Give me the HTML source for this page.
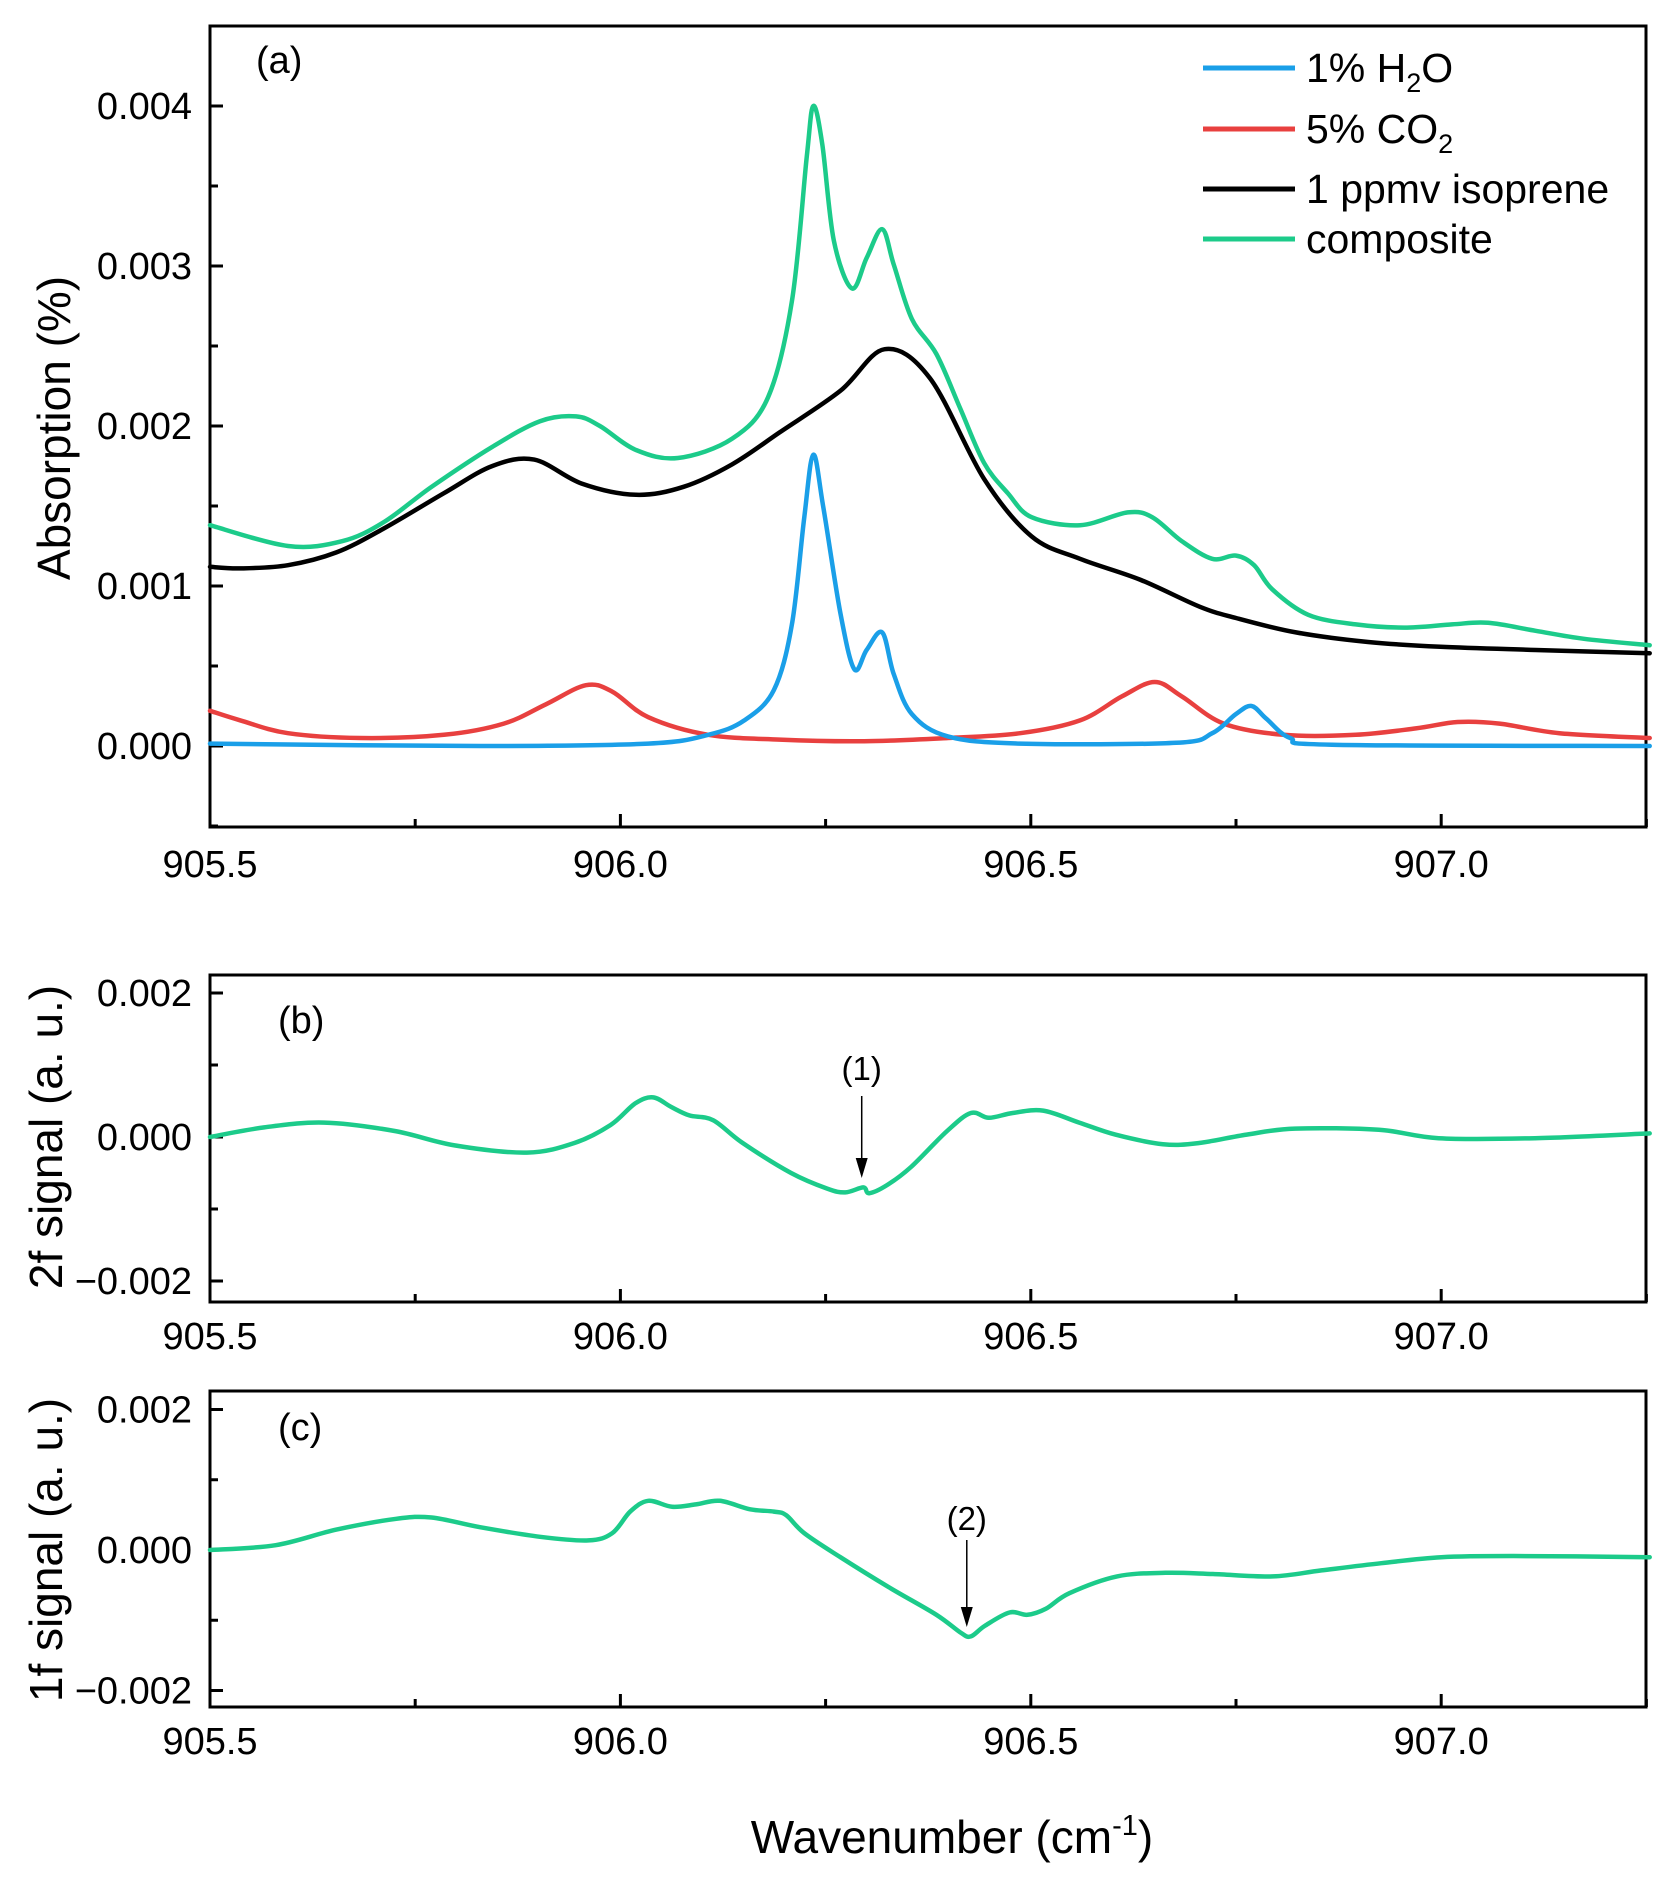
<!DOCTYPE html>
<html><head><meta charset="utf-8"><style>
html,body{margin:0;padding:0;background:#fff;}
svg text{font-family:"Liberation Sans",Arial,sans-serif;fill:#000;}
</style></head><body>
<svg id="chart" width="1670" height="1878" viewBox="0 0 1670 1878" xmlns="http://www.w3.org/2000/svg" style="position:absolute;left:0;top:0"></svg>
<script>
// ---- data (panel a) ----
const compX=[905.500,905.595,905.661,905.712,905.770,905.844,905.902,905.946,905.975,906.019,906.070,906.136,906.180,906.209,906.227,906.235,906.246,906.260,906.282,906.300,906.319,906.333,906.355,906.385,906.414,906.443,906.472,906.501,906.560,906.618,906.648,906.684,906.721,906.750,906.772,906.794,906.838,906.896,906.955,907.013,907.057,907.115,907.174,907.254];
const compY=[0.00138,0.00125,0.00128,0.00140,0.00162,0.00187,0.00203,0.00206,0.00200,0.00185,0.00180,0.00192,0.00218,0.00278,0.00368,0.00400,0.00376,0.00316,0.00286,0.00305,0.00323,0.00301,0.00267,0.00245,0.00211,0.00177,0.00158,0.00143,0.00138,0.00146,0.00143,0.00128,0.00117,0.00119,0.00113,0.00098,0.00082,0.00076,0.00074,0.00076,0.00077,0.00072,0.00067,0.00063];
const isoX=[905.500,905.537,905.595,905.654,905.712,905.785,905.844,905.895,905.953,906.019,906.077,906.136,906.194,906.268,906.322,906.377,906.443,906.501,906.560,906.633,906.706,906.750,906.823,906.911,906.999,907.115,907.254];
const isoY=[0.00112,0.00111,0.00113,0.00121,0.00136,0.00158,0.00175,0.00179,0.00164,0.00157,0.00162,0.00176,0.00196,0.00222,0.00248,0.00230,0.00167,0.00131,0.00117,0.00104,0.00087,0.00080,0.00071,0.00065,0.00062,0.00060,0.00058];
const h2oX=[905.500,905.829,906.034,906.107,906.151,906.187,906.209,906.224,906.235,906.247,906.268,906.285,906.300,906.319,906.333,906.355,906.399,906.487,906.677,906.721,906.750,906.769,906.787,906.816,906.867,907.254];
const h2oY=[0.000015,0,0.000015,0.00007,0.00016,0.00035,0.00076,0.00143,0.00182,0.00150,0.00083,0.00048,0.00060,0.00071,0.00045,0.00020,0.00006,0.000015,0.00002,0.00008,0.00020,0.00025,0.00017,0.00005,0.000008,0];
const co2X=[905.500,905.537,905.595,905.683,905.785,905.858,905.909,905.958,905.990,906.034,906.107,906.194,906.297,906.399,906.487,906.560,906.611,906.651,906.684,906.735,906.808,906.896,906.969,907.020,907.071,907.144,907.254];
const co2Y=[0.00022,0.00016,0.00008,0.00005,0.00007,0.00014,0.00026,0.00038,0.00034,0.00018,0.00007,0.00004,0.00003,0.00005,0.00008,0.00016,0.00031,0.00040,0.00031,0.00014,0.00007,0.00007,0.00011,0.00015,0.00014,0.00008,0.00005];
// ---- data (panel b, 2f) ----
const twoFX=[905.500,905.566,905.639,905.725,905.798,905.886,905.944,905.988,906.018,906.040,906.062,906.084,906.113,906.149,906.208,906.252,906.274,906.296,906.303,906.325,906.354,906.398,906.427,906.449,906.478,906.515,906.559,906.603,906.661,906.705,906.763,906.822,906.924,906.997,907.114,907.254];
const twoFY=[0,0.000133,0.0002,0.000083,-0.000117,-0.000217,-0.000083,0.000167,0.000467,0.00055,0.000417,0.0003,0.000233,-0.000083,-0.0005,-0.000717,-0.00077,-0.0007,-0.00078,-0.000667,-0.000417,0.000083,0.000333,0.000267,0.000333,0.000367,0.0002,0.000033,-0.0001,-0.000083,0.000033,0.000117,0.0001,-0.000017,-0.000017,0.00005];
// ---- data (panel c, 1f) ----
const oneFX=[905.500,905.580,905.654,905.727,905.770,905.829,905.902,905.961,905.990,906.012,906.034,906.063,906.092,906.121,906.158,906.187,906.202,906.224,906.268,906.327,906.385,906.415,906.427,906.444,906.474,906.496,906.518,906.547,906.605,906.664,906.722,906.795,906.854,906.927,907.000,907.088,907.254];
const oneFY=[0,0.000068,0.000291,0.000444,0.000462,0.000325,0.000188,0.000137,0.000239,0.000547,0.0007,0.000615,0.000649,0.0007,0.00058,0.000547,0.000496,0.000239,-0.000103,-0.00053,-0.000923,-0.00118,-0.00123,-0.00108,-0.000889,-0.000923,-0.000838,-0.000615,-0.000376,-0.000325,-0.000342,-0.000376,-0.000291,-0.000188,-0.000103,-0.000085,-0.000103];
const xTicks=[905.5,906.0,906.5,907.0];
const xTickLabels=["905.5","906.0","906.5","907.0"];
const aTicks=[0,0.001,0.002,0.003,0.004];
const aTickLabels=["0.000","0.001","0.002","0.003","0.004"];
const bcTicks=[-0.002,0,0.002];
const bcTickLabels=["\u22120.002","0.000","0.002"];

const NS="http://www.w3.org/2000/svg";
const svg=document.getElementById('chart');
const L=210,R=1646;
const xs=x=>L+(x-905.5)*820.8;
const panels={
 a:{top:26,bot:827,lab:877,y:v=>746-v*160000},
 b:{top:975,bot:1302,lab:1349,y:v=>1137-v*72000},
 c:{top:1391,bot:1707,lab:1754,y:v=>1550-v*70250}
};
function mk(tag,attrs,parent){const e=document.createElementNS(NS,tag);for(const k in attrs)e.setAttribute(k,attrs[k]);(parent||svg).appendChild(e);return e;}
function smooth(X,Y,ys){
 const p=X.map((x,i)=>[xs(x),ys(Y[i])]);
 let d='M'+p[0][0].toFixed(1)+','+p[0][1].toFixed(1);
 for(let i=0;i<p.length-1;i++){
  const p0=p[i-1]||p[i],p1=p[i],p2=p[i+1],p3=p[i+2]||p2;
  const c1=[p1[0]+(p2[0]-p0[0])/6,p1[1]+(p2[1]-p0[1])/6];
  const c2=[p2[0]-(p3[0]-p1[0])/6,p2[1]-(p3[1]-p1[1])/6];
  d+=' C'+c1[0].toFixed(1)+','+c1[1].toFixed(1)+' '+c2[0].toFixed(1)+','+c2[1].toFixed(1)+' '+p2[0].toFixed(1)+','+p2[1].toFixed(1);
 }
 return d;
}
function axes(key,yt,ytl,minorStep,ymin,ymax){
 const P=panels[key];
 const g=mk('g',{});
 
 
 for(let x=905.5;x<=907.25;x+=0.25){
  const major=Math.abs((x*2)-Math.round(x*2))<1e-6;
  const t=mk('line',{x1:xs(x),x2:xs(x),y1:P.bot,y2:P.bot-(major?13:8),stroke:'#000','stroke-width':3},g);
  
  
 }
 xTicks.forEach((x,i)=>{
  const t=mk('text',{x:xs(x),y:P.lab,'text-anchor':'middle','font-size':38},g);
  t.textContent=xTickLabels[i];
  
  
 });
 for(let v=ymin;v<=ymax+1e-9;v+=minorStep){
  const major=yt.some(t=>Math.abs(t-v)<1e-9);
  const t=mk('line',{x1:L,x2:L+(major?13:8),y1:P.y(v),y2:P.y(v),stroke:'#000','stroke-width':3},g);
  
  
 }
 yt.forEach((v,i)=>{
  const t=mk('text',{x:192,y:P.y(v)+13,'text-anchor':'end','font-size':38},g);
  t.textContent=ytl[i];
  
  
 });
 const fr=mk('rect',{x:L,y:P.top,width:R-L,height:P.bot-P.top,fill:'none',stroke:'#000','stroke-width':3},g);
 
 
}
function series(key,X,Y,color,name){
 const P=panels[key];
 const p=mk('path',{d:smooth(X,Y,P.y),fill:'none',stroke:color,'stroke-width':4.5,'stroke-linejoin':'round','stroke-linecap':'round'});
 
 
}

axes('a',aTicks,aTickLabels,0.0005,-0.0005,0.0045);
axes('b',bcTicks,bcTickLabels,0.001,-0.002,0.002);
axes('c',bcTicks,bcTickLabels,0.001,-0.002,0.002);

series('a',compX,compY,'#1ccb8a','composite-line');
series('a',isoX,isoY,'#000000','isoprene-line');
series('a',co2X,co2Y,'#e8403f','co2-line');
series('a',h2oX,h2oY,'#1a9fe8','h2o-line');
series('b',twoFX,twoFY,'#1ccb8a','2f-signal-line');
series('c',oneFX,oneFY,'#1ccb8a','1f-signal-line');

// arrows
const arrowDefs=[['b',906.294,1096,1178,'(1)',1080,'arrow-1'],['c',906.422,1540,1627,'(2)',1530,'arrow-2']];
arrowDefs.forEach(a=>{
 const x=xs(a[1]);
 const g=mk('g',{});
 
 
 mk('line',{x1:x,x2:x,y1:a[2],y2:a[3]-18,stroke:'#000','stroke-width':1.5},g);
 mk('polygon',{points:`${x-6},${a[3]-20} ${x+6},${a[3]-20} ${x},${a[3]}`,fill:'#000'},g);
 const t=mk('text',{x:x,y:a[5],'text-anchor':'middle','font-size':33},g);
 t.textContent=a[4];
});
</script>
<svg width="1670" height="1878" style="position:absolute;left:0;top:0">
<text x="256" y="73" font-size="38">(a)</text>
<text x="278" y="1033" font-size="38">(b)</text>
<text x="278" y="1440" font-size="38">(c)</text>
<g>
<line x1="1203" x2="1295" y1="68" y2="68" stroke="#1a9fe8" stroke-width="5"/>
<text x="1306" y="82" font-size="41">1% H<tspan font-size="27" dy="10">2</tspan><tspan dy="-10">O</tspan></text>
<line x1="1203" x2="1295" y1="129" y2="129" stroke="#e8403f" stroke-width="5"/>
<text x="1306" y="143" font-size="41">5% CO<tspan font-size="27" dy="10">2</tspan></text>
<line x1="1203" x2="1295" y1="189" y2="189" stroke="#000" stroke-width="5"/>
<text x="1306" y="203" font-size="41">1 ppmv isoprene</text>
<line x1="1203" x2="1295" y1="239" y2="239" stroke="#1ccb8a" stroke-width="5"/>
<text x="1306" y="253" font-size="41">composite</text>
</g>
<text transform="translate(70,428) rotate(-90)" text-anchor="middle" font-size="46">Absorption (%)</text>
<text transform="translate(62,1137) rotate(-90)" text-anchor="middle" font-size="46">2f signal (a. u.)</text>
<text transform="translate(62,1550) rotate(-90)" text-anchor="middle" font-size="46">1f signal (a. u.)</text>
<text x="952" y="1853" text-anchor="middle" font-size="46">Wavenumber (cm<tspan font-size="29" dy="-18">-1</tspan><tspan dy="18">)</tspan></text>
</svg>
</body></html>
